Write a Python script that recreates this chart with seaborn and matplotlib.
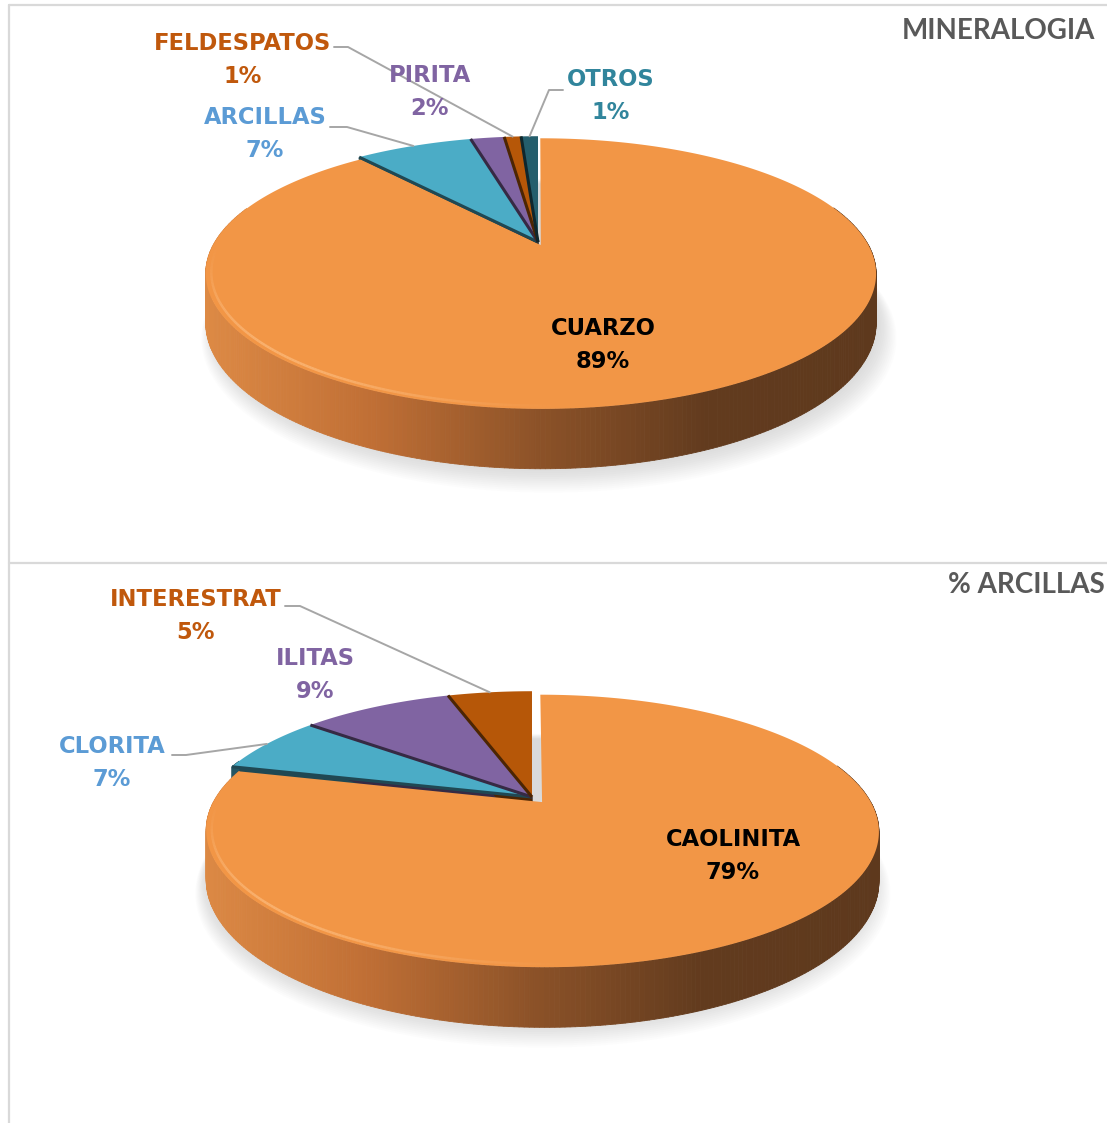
import numpy as np
import matplotlib
matplotlib.use("Agg")
import matplotlib.pyplot as plt
import seaborn as sns
from matplotlib.transforms import Transform
from matplotlib.path import Path
from matplotlib.patches import Polygon
from matplotlib.collections import PolyCollection, LineCollection
from matplotlib.colors import to_rgb

# ---------------------------------------------------------------- data
mineral_labels = ["CUARZO", "ARCILLAS", "PIRITA", "FELDESPATOS", "OTROS"]
mineral_values = [89, 7, 2, 1, 1]
mineral_colors = ["#F29646", "#4BACC6", "#8064A2", "#B65708", "#245E6C"]
mineral_text_colors = ["#000000", "#5B9BD5", "#8064A2", "#C0580C", "#31859C"]
mineral_title = "MINERALOGIA"

clay_labels = ["CAOLINITA", "CLORITA", "ILITAS", "INTERESTRAT"]
clay_values = [79, 7, 9, 5]
clay_colors = ["#F29646", "#4BACC6", "#8064A2", "#B65708"]
clay_text_colors = ["#000000", "#5B9BD5", "#8064A2", "#C0580C"]
clay_title = "% ARCILLAS"

# ---------------------------------------------------------------- layout (pixels)
W, H = 1107, 1123
TILT_A, TILT_B, TILT_K, DEPTH = 326.0, 128.0, 0.21, 47.0

mineral_layout = dict(
    cx=538, cy=242, explode=0.025,
    label_xy=[(603, 345), (265, 134), (430, 92), (243, 60), (611, 96)],
    leaders={1: [(330, 127), (347, 127)], 3: [(334, 47), (348, 47)], 4: [(563, 90), (549, 90)]},
    title_xy=(1095, 31),
)
clay_layout = dict(
    cx=532, cy=797, explode=0.05,
    label_xy=[(733, 856), (112, 763), (315, 675), (196, 616)],
    leaders={1: [(172, 755), (186, 755)], 3: [(285, 606), (300, 606)]},
    title_xy=(1105, 585),
)

rim_palette = sns.blend_palette(["#DD8A45", "#C06F35", "#8C5228", "#623B1E", "#5E391D"], n_colors=256)


class TiltedDisk(Transform):
    """Perspective view of the unit disk lying on a table, optionally dropped by a depth."""
    input_dims = 2
    output_dims = 2
    is_separable = False
    has_inverse = False

    def __init__(self, cx, cy, a, b, k, drop=0.0):
        super().__init__()
        self.cx, self.cy, self.a, self.b, self.k, self.drop = cx, cy, a, b, k, drop

    def transform_non_affine(self, values):
        v = np.asarray(values, dtype=float).reshape(-1, 2)
        x, y = v[:, 0], v[:, 1]
        w = 1.0 + self.k * y
        return np.column_stack([self.cx + self.a * x / w,
                                self.cy + (self.drop - self.b * y) / w])

    def transform_path_non_affine(self, path):
        pieces = [seg(np.linspace(0.0, 1.0, 40)) for seg, _ in path.iter_bezier()]
        verts = np.concatenate(pieces)
        return Path(self.transform_non_affine(verts), closed=True)


def shade(color, f):
    return tuple(np.clip(np.array(to_rgb(color)) * f, 0, 1))


def draw_pie(ax, labels, values, colors, text_colors, title, lay):
    cx, cy = lay["cx"], lay["cy"]
    top = TiltedDisk(cx, cy, TILT_A, TILT_B, TILT_K, 0.0)
    bot = TiltedDisk(cx, cy, TILT_A, TILT_B, TILT_K, DEPTH)

    explode = [lay["explode"]] + [0.0] * (len(values) - 1)
    wedges, _ = ax.pie(values, colors=colors, startangle=90, counterclock=False,
                       explode=explode, radius=1.0, wedgeprops=dict(linewidth=0))

    # soft drop shadow under the disk, cast slightly to the right
    ph = np.linspace(0, 2 * np.pi, 240)
    circ = np.column_stack([np.cos(ph), np.sin(ph)])
    for i in range(14):
        s = 0.995 + 0.0035 * i
        T = TiltedDisk(cx + 7 + 0.3 * i, cy, TILT_A, TILT_B, TILT_K, DEPTH + 4 + 0.9 * i)
        ax.add_patch(Polygon(T.transform(circ * s), closed=True, fc="#808080",
                             ec="none", alpha=0.02, zorder=1))

    xl, xr = cx - TILT_A * 1.023, cx + TILT_A * 1.023
    quads, qcols, keys = [], [], []
    for idx, (w, col) in enumerate(zip(wedges, colors)):
        c0 = np.array(w.center, dtype=float)
        r = w.r
        t1, t2 = np.deg2rad(w.theta1), np.deg2rad(w.theta2)
        n = max(2, int(abs(t2 - t1) / np.deg2rad(0.7)) + 1)
        phs = np.linspace(t1, t2, n)
        P = c0 + r * np.column_stack([np.cos(phs), np.sin(phs)])
        pt, pb = top.transform(P), bot.transform(P)
        for i in range(n - 1):
            mid = 0.5 * (phs[i] + phs[i + 1])
            if np.sin(mid) > 0.3:
                continue
            q = [pt[i], pt[i + 1], pb[i + 1], pb[i]]
            if idx == 0:
                xm = 0.5 * (pt[i][0] + pt[i + 1][0])
                f = np.clip((xm - xl) / (xr - xl), 0, 1)
                c = rim_palette[int(f * 255)]
            else:
                c = shade(col, 0.5)
            quads.append(q)
            qcols.append(c)
            keys.append(-np.sin(mid))
        # visible radial faces
        for th, vis in ((t2, np.cos(t2) < -1e-3), (t1, np.cos(t1) > 1e-3)):
            if not vis or idx == 0:
                continue
            E = [c0, c0 + r * np.array([np.cos(th), np.sin(th)])]
            a0, a1 = top.transform(E)
            b0, b1 = bot.transform(E)
            ax.add_patch(Polygon([a0, a1, b1, b0], closed=True, fc=shade(col, 0.42),
                                 ec=shade(col, 0.42), lw=0.5, zorder=2))
        w.set_transform(top + ax.transData)
        w.set_zorder(4)
        if idx > 0:
            E = [c0, c0 + r * np.array([np.cos(t2), np.sin(t2)])]
            e = top.transform(E)
            ax.plot(e[:, 0], e[:, 1], color=shade(col, 0.42), lw=2.2,
                    solid_capstyle="butt", zorder=4.5)

    order = np.argsort(keys)
    pc = PolyCollection([quads[i] for i in order], facecolors=[qcols[i] for i in order],
                        edgecolors=[qcols[i] for i in order], linewidths=0.6, zorder=3)
    ax.add_collection(pc)

    # soft bevel highlight along the front-left edge of the main slice
    w0 = wedges[0]
    c0 = np.array(w0.center, dtype=float)
    hp = np.deg2rad(np.linspace(178, 275, 160))
    hl = top.transform(c0 + 0.984 * np.column_stack([np.cos(hp), np.sin(hp)]))
    segs = np.stack([hl[:-1], hl[1:]], axis=1)
    fade = np.sin(np.linspace(0, np.pi, len(segs))) ** 1.5
    hcol = [(1.0, 0.78, 0.56, 0.55 * a) for a in fade]
    ax.add_collection(LineCollection(segs, colors=hcol, linewidths=1.8, zorder=4.6))

    # leader lines
    for idx, pts in lay["leaders"].items():
        w = wedges[idx]
        c0 = np.array(w.center, dtype=float)
        tm = np.deg2rad(0.5 * (w.theta1 + w.theta2))
        anchor = top.transform([c0 + w.r * np.array([np.cos(tm), np.sin(tm)])])[0]
        line = np.array(list(pts) + [anchor])
        ax.plot(line[:, 0], line[:, 1], color="#A6A6A6", lw=1.4, zorder=6)

    # data labels
    for name, val, tc, (x, y) in zip(labels, values, text_colors, lay["label_xy"]):
        ax.text(x, y, f"{name}\n{val}%", ha="center", va="center", color=tc,
                fontsize=16.3, fontweight="bold", family=["DejaVu Sans"],
                linespacing=1.55, zorder=7)

    tx, ty = lay["title_xy"]
    ax.text(tx, ty, title, ha="right", va="center", color="#595959", fontsize=20,
            fontweight="bold", family=["Lato", "DejaVu Sans"], zorder=7)


sns.set_theme(style="white")
plt.rcParams["font.family"] = ["DejaVu Sans"]

fig = plt.figure(figsize=(W / 100, H / 100), dpi=100)
fig.patch.set_facecolor("white")
ax = fig.add_axes([0, 0, 1, 1])

draw_pie(ax, mineral_labels, mineral_values, mineral_colors, mineral_text_colors,
         mineral_title, mineral_layout)
draw_pie(ax, clay_labels, clay_values, clay_colors, clay_text_colors,
         clay_title, clay_layout)

# chart area frames
frame_kw = dict(color="#D9D9D9", lw=1.6, zorder=0.5)
ax.plot([9, 9], [5, H], **frame_kw)
ax.plot([9, W], [5, 5], **frame_kw)
ax.plot([9, W], [563, 563], **frame_kw)

ax.set_aspect("auto")
ax.set_xlim(0, W)
ax.set_ylim(H, 0)
ax.set_axis_off()

fig.savefig("out.png", dpi=100, facecolor="white")
